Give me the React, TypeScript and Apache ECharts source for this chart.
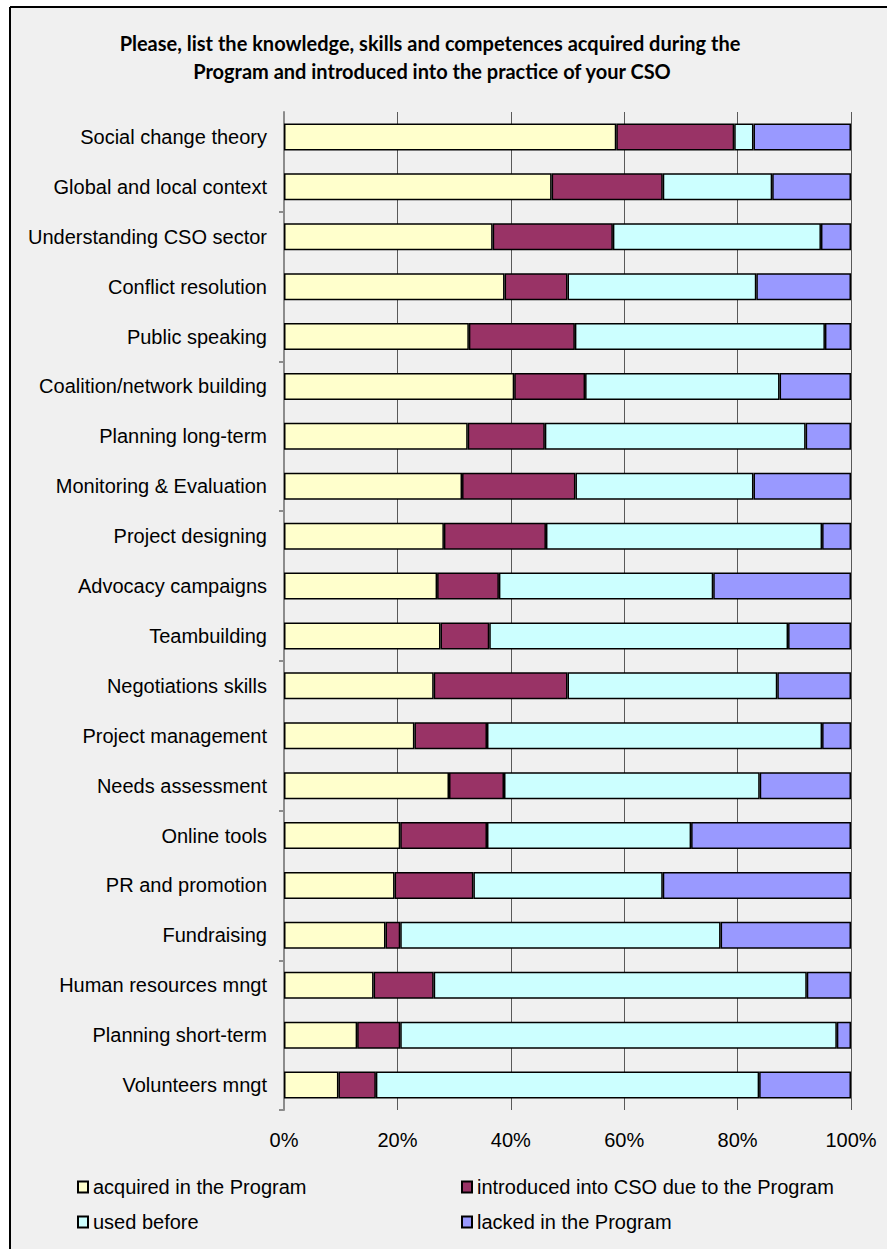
import React, { useEffect, useRef } from "react";
import * as echarts from "echarts";

const categories = [
  "Social change theory",
  "Global and local context",
  "Understanding CSO sector",
  "Conflict resolution",
  "Public speaking",
  "Coalition/network building",
  "Planning long-term",
  "Monitoring & Evaluation",
  "Project designing",
  "Advocacy campaigns",
  "Teambuilding",
  "Negotiations skills",
  "Project management",
  "Needs assessment",
  "Online tools",
  "PR and promotion",
  "Fundraising",
  "Human resources mngt",
  "Planning short-term",
  "Volunteers mngt",
];

const acquired = [58.6, 47.2, 36.8, 38.9, 32.6, 40.6, 32.4, 31.4, 28.2, 27.0, 27.6, 26.4, 23.0, 29.1, 20.5, 19.5, 17.9, 15.8, 12.9, 9.6];
const introduced = [20.8, 19.6, 21.2, 11.1, 18.7, 12.5, 13.6, 20.0, 18.0, 10.9, 8.6, 23.6, 12.8, 9.7, 15.3, 13.9, 2.6, 10.6, 7.6, 6.6];
const usedBefore = [3.4, 19.3, 36.7, 33.3, 44.1, 34.3, 46.0, 31.4, 48.7, 37.8, 52.7, 37.0, 59.1, 45.1, 36.0, 33.4, 56.5, 65.8, 77.0, 67.6];
const lacked = [17.2, 13.9, 5.3, 16.7, 4.6, 12.6, 8.0, 17.2, 5.1, 24.3, 11.1, 13.0, 5.1, 16.1, 28.2, 33.2, 23.0, 7.8, 2.5, 16.2];

const seriesNames = [
  "acquired in the Program",
  "introduced into CSO due to the Program",
  "used before",
  "lacked in the Program",
];
const seriesColors = ["#FFFFCC", "#993366", "#CCFFFF", "#9999FF"];
const seriesData = [acquired, introduced, usedBefore, lacked];

const titleLines = [
  "Please, list the knowledge, skills and competences acquired during the",
  "Program and introduced into the practice of your CSO",
];

const FONT = "'Liberation Sans', Arial, sans-serif";

export default function App() {
  const ref = useRef<HTMLDivElement>(null);

  useEffect(() => {
    if (!ref.current) return;
    const chart = echarts.init(ref.current, undefined, { renderer: "svg" });
    const legendText = { fontFamily: FONT, fontSize: 20, color: "#000", lineHeight: 20 };
    const titleStyle = {
      fontFamily: "Lato, sans-serif",
      fontWeight: "bold",
      fontSize: 20,
      fill: "#000",
      align: "center",
      verticalAlign: "middle",
    };
    chart.setOption({
      animation: false,
      backgroundColor: "#F0F0F0",
      graphic: [
        { type: "rect", shape: { x: 0, y: 0, width: 9, height: 1249 }, style: { fill: "#FFFFFF" }, z: 100 },
        { type: "rect", shape: { x: 0, y: 0, width: 887, height: 7 }, style: { fill: "#FFFFFF" }, z: 100 },
        { type: "line", shape: { x1: 10, y1: 7, x2: 887, y2: 7 }, style: { stroke: "#000", lineWidth: 2 }, z: 101 },
        { type: "line", shape: { x1: 10, y1: 7, x2: 10, y2: 1249 }, style: { stroke: "#000", lineWidth: 2 }, z: 101 },
        { type: "text", x: 430, y: 43, style: { ...titleStyle, text: titleLines[0] } },
        { type: "text", x: 432, y: 71, style: { ...titleStyle, text: titleLines[1] } },
      ],
      legend: [
        {
          orient: "vertical",
          left: 72,
          top: 1172,
          itemWidth: 10,
          itemHeight: 11,
          itemGap: 15,
          icon: "rect",
          data: [seriesNames[0], seriesNames[2]],
          textStyle: legendText,
          selectedMode: false,
        },
        {
          orient: "vertical",
          left: 456,
          top: 1172,
          itemWidth: 10,
          itemHeight: 11,
          itemGap: 15,
          icon: "rect",
          data: [seriesNames[1], seriesNames[3]],
          textStyle: legendText,
          selectedMode: false,
        },
      ],
      grid: { left: 284, right: 36, top: 112, bottom: 139, containLabel: false },
      xAxis: {
        type: "value",
        min: 0,
        max: 100,
        interval: 20,
        axisLine: { show: false },
        axisTick: { show: false },
        axisLabel: {
          formatter: "{value}%",
          fontFamily: FONT,
          fontSize: 20,
          color: "#000",
          margin: 20,
        },
        splitLine: { show: true, lineStyle: { color: "#595959", width: 1 } },
      },
      yAxis: {
        type: "category",
        inverse: true,
        data: categories,
        axisLine: { show: true, lineStyle: { color: "#8C8C8C", width: 2 } },
        axisTick: {
          show: true,
          length: 5,
          interval: (i: number) => i % 3 === 2,
          lineStyle: { color: "#8C8C8C", width: 2 },
        },
        axisLabel: {
          interval: 0,
          fontFamily: FONT,
          fontSize: 20,
          color: "#000",
          margin: 17,
        },
        splitLine: { show: false },
      },
      series: seriesNames.map((name, k) => ({
        name,
        type: "bar",
        stack: "total",
        barWidth: 27,
        data: seriesData[k],
        itemStyle: { color: seriesColors[k], borderColor: "#000", borderWidth: 1.5 },
        emphasis: { disabled: true },
      })),
    });
    return () => chart.dispose();
  }, []);

  return (
    <div
      ref={ref}
      style={{ position: "absolute", left: 0, top: 0, width: 887, height: 1249 }}
    />
  );
}
